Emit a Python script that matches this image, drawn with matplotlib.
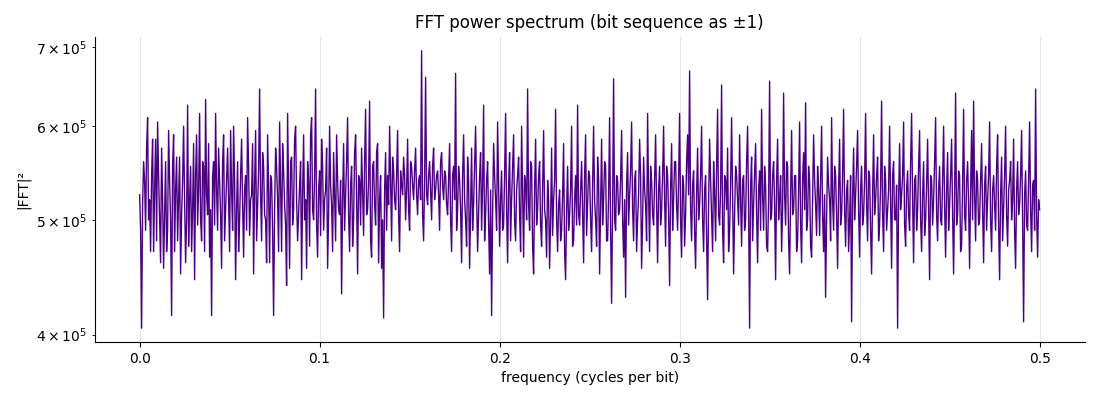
import numpy as np
import matplotlib
matplotlib.use('Agg')
import matplotlib.pyplot as plt

# --- Data (|FFT|^2 in units of 1e3) ---
power_k = [
    525, 490, 405, 515, 560, 540, 490, 575, 610, 500, 520, 470, 545, 585, 470, 530, 585, 480, 605, 545,
    500, 460, 575, 520, 455, 505, 560, 470, 490, 595, 540, 500, 415, 555, 590, 470, 530, 565, 480, 520,
    565, 450, 505, 540, 600, 520, 460, 500, 625, 475, 520, 555, 470, 510, 580, 445, 545, 590, 495, 530,
    615, 500, 480, 560, 555, 470, 632, 525, 505, 580, 465, 510, 415, 545, 560, 495, 615, 530, 490, 575,
    540, 505, 455, 560, 590, 480, 510, 545, 575, 520, 470, 595, 530, 490, 600, 540, 445, 510, 560, 470,
    500, 545, 585, 515, 465, 530, 545, 490, 610, 555, 485, 520, 525, 580, 450, 535, 595, 480, 515, 550,
    645, 525, 480, 570, 555, 505, 500, 460, 590, 530, 460, 545, 540, 490, 415, 510, 575, 555, 520, 470,
    605, 535, 470, 580, 550, 515, 495, 440, 615, 525, 455, 560, 565, 495, 510, 585, 600, 520, 480, 505,
    535, 560, 445, 525, 590, 500, 520, 455, 560, 540, 475, 590, 610, 510, 500, 545, 645, 495, 465, 530,
    550, 485, 585, 555, 490, 520, 530, 575, 455, 505, 600, 535, 515, 470, 570, 525, 480, 590, 540, 510,
    505, 540, 433, 520, 580, 490, 525, 560, 610, 505, 470, 535, 555, 475, 500, 570, 590, 520, 450, 545,
    540, 495, 575, 530, 485, 560, 620, 505, 510, 540, 630, 480, 465, 555, 560, 515, 495, 570, 580, 460,
    520, 545, 455, 500, 413, 530, 570, 490, 545, 515, 600, 540, 480, 565, 550, 520, 510, 545, 595, 505,
    470, 550, 535, 525, 565, 545, 500, 530, 585, 510, 490, 560, 555, 535, 520, 550, 575, 525, 505, 540,
    545, 520, 695, 505, 480, 540, 660, 525, 515, 545, 560, 530, 500, 555, 575, 520, 530, 545, 550, 525,
    490, 560, 570, 535, 520, 550, 545, 515, 505, 540, 580, 500, 470, 545, 555, 520, 665, 490, 510, 555,
    540, 510, 460, 545, 590, 520, 500, 475, 565, 540, 455, 510, 575, 490, 515, 555, 600, 525, 470, 505,
    545, 570, 490, 535, 625, 480, 505, 540, 560, 495, 450, 530, 415, 505, 580, 545, 520, 490, 605, 535,
    475, 520, 550, 490, 495, 545, 615, 510, 460, 535, 570, 480, 520, 555, 590, 500, 480, 530, 545, 565,
    505, 470, 600, 525, 465, 545, 535, 500, 645, 515, 490, 560, 555, 475, 450, 530, 585, 495, 510, 545,
    560, 495, 475, 530, 595, 510, 500, 465, 540, 520, 455, 500, 575, 485, 520, 540, 620, 500, 470, 515,
    530, 480, 490, 525, 580, 470, 445, 510, 555, 490, 505, 530, 600, 475, 480, 520, 545, 495, 625, 505,
    495, 530, 560, 505, 460, 545, 590, 485, 515, 550, 545, 500, 470, 535, 600, 520, 500, 475, 565, 540,
    450, 510, 585, 495, 520, 560, 555, 480, 480, 525, 610, 490, 425, 515, 658, 500, 490, 545, 540, 505,
    510, 540, 595, 500, 465, 520, 430, 535, 570, 495, 525, 550, 605, 510, 480, 540, 550, 470, 500, 525,
    585, 545, 455, 500, 565, 530, 515, 480, 615, 525, 470, 555, 540, 505, 495, 540, 590, 515, 460, 530,
    555, 495, 510, 545, 600, 520, 475, 555, 545, 505, 440, 530, 580, 490, 520, 560, 560, 515, 490, 540,
    615, 500, 465, 545, 535, 475, 505, 560, 590, 525, 668, 510, 480, 535, 550, 490, 455, 525, 575, 500,
    515, 545, 600, 500, 470, 530, 545, 480, 428, 515, 585, 540, 505, 470, 560, 525, 480, 555, 620, 505,
    495, 530, 650, 490, 460, 545, 540, 510, 575, 470, 490, 535, 610, 520, 450, 505, 555, 545, 520, 495,
    590, 520, 475, 540, 545, 490, 500, 560, 600, 510, 405, 535, 565, 480, 515, 545, 580, 505, 460, 530,
    550, 490, 620, 525, 490, 555, 535, 475, 470, 520, 655, 500, 505, 545, 560, 515, 445, 540, 585, 500,
    520, 545, 470, 510, 640, 525, 495, 560, 555, 480, 450, 525, 595, 505, 510, 545, 545, 470, 480, 530,
    605, 495, 460, 540, 570, 510, 628, 490, 500, 555, 540, 475, 465, 520, 590, 540, 515, 485, 555, 530,
    485, 540, 600, 505, 470, 525, 430, 500, 565, 535, 520, 480, 610, 520, 490, 555, 545, 505, 455, 530,
    585, 495, 505, 545, 620, 510, 475, 530, 540, 470, 500, 545, 410, 520, 575, 500, 525, 555, 595, 510,
    465, 530, 555, 495, 505, 540, 615, 515, 480, 550, 545, 490, 450, 525, 590, 505, 520, 545, 565, 480,
    495, 535, 630, 505, 470, 555, 540, 490, 510, 530, 600, 515, 455, 545, 560, 500, 500, 535, 405, 520,
    580, 510, 525, 545, 605, 495, 475, 530, 550, 505, 490, 560, 615, 520, 460, 540, 545, 490, 510, 555,
    595, 500, 470, 525, 560, 485, 500, 535, 585, 510, 445, 545, 540, 495, 520, 560, 610, 505, 480, 530,
    555, 500, 495, 540, 600, 515, 465, 530, 570, 490, 515, 545, 585, 505, 450, 525, 640, 495, 505, 550,
    545, 470, 475, 535, 620, 505, 490, 540, 560, 515, 455, 530, 595, 500, 630, 525, 480, 550, 540, 495,
    500, 540, 580, 510, 460, 535, 555, 490, 520, 545, 605, 500, 470, 530, 545, 515, 490, 555, 590, 495,
    445, 525, 565, 480, 510, 545, 600, 505, 475, 530, 540, 560, 500, 520, 585, 490, 455, 530, 560, 505,
    515, 545, 595, 500, 410, 525, 550, 495, 490, 540, 605, 510, 470, 535, 540, 490, 645, 505, 465, 520,
    510,
]

power = np.array(power_k) * 1e3
freqs = np.linspace(0, 0.5, len(power))

# --- Plot ---
fig, ax = plt.subplots(figsize=(11, 4), dpi=100)
plt.subplots_adjust(left=0.086, right=0.986, top=0.908, bottom=0.145)

ax.plot(freqs, power, color='indigo', linewidth=1.0)
ax.set_yscale('log')
ax.set_title('FFT power spectrum (bit sequence as ±1)', fontsize=12)
ax.set_xlabel('frequency (cycles per bit)')
ax.set_ylabel('|FFT|²')
ax.grid(True, axis='x', color='#e6e6e6', linewidth=0.8)
ax.set_axisbelow(True)
ax.spines['top'].set_visible(False)
ax.spines['right'].set_visible(False)

fig.savefig('out.png', dpi=100)
